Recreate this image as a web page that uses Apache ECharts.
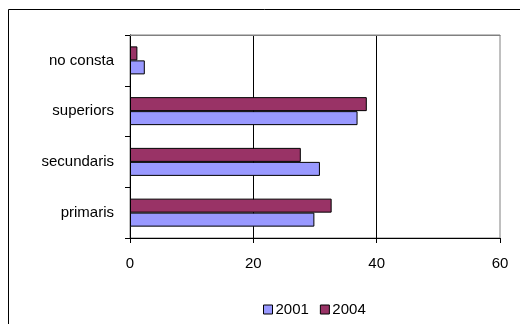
<!DOCTYPE html>
<html>
<head>
<meta charset="utf-8">
<script src="https://cdn.jsdelivr.net/npm/echarts@6/dist/echarts.min.js"></script>
<style>
  html, body { margin: 0; padding: 0; background: #fff; }
  #chart { width: 520px; height: 324px; }
</style>
</head>
<body>
<div id="chart"></div>
<script>
// Study levels, listed bottom to top
const categories = ['primaris', 'secundaris', 'superiors', 'no consta'];
const values2001 = [29.9, 30.8, 36.9, 2.4];
const values2004 = [32.7, 27.7, 38.4, 1.2];
const xTicks = [0, 20, 40, 60];

const FONT = '"Liberation Sans", Arial, sans-serif';

const chart = echarts.init(document.getElementById('chart'), null, { renderer: 'canvas' });

chart.setOption({
  animation: false,
  backgroundColor: '#fff',
  textStyle: { fontFamily: FONT },
  graphic: [{
    type: 'rect',
    shape: { x: 8.5, y: 9.5, width: 560, height: 360 },
    style: { fill: null, stroke: '#000', lineWidth: 1 },
    z: -1
  }],
  grid: {
    left: 130, right: 20, top: 35, bottom: 86,
    show: true, borderColor: '#808080', borderWidth: 1, backgroundColor: '#fff'
  },
  legend: {
    top: 297, left: 258,
    itemWidth: 9, itemHeight: 9, itemGap: 11,
    icon: 'rect',
    itemStyle: { borderColor: '#000', borderWidth: 1 },
    textStyle: { fontFamily: FONT, fontSize: 15, color: '#000', padding: [0, 0, 0, -2] },
    data: ['2001', '2004']
  },
  xAxis: [{
    type: 'value',
    min: xTicks[0], max: xTicks[xTicks.length - 1], interval: 20,
    axisLine: { show: true, lineStyle: { color: '#000', width: 1 } },
    axisTick: { show: true, length: 5, lineStyle: { color: '#000' } },
    axisLabel: { margin: 18, color: '#000', fontSize: 15, fontFamily: FONT },
    splitLine: { show: true, showMinLine: false, showMaxLine: false, lineStyle: { color: '#000', width: 1 } }
  }, {
    // plot-area frame along the top edge
    type: 'value', position: 'top',
    min: xTicks[0], max: xTicks[xTicks.length - 1], interval: 20,
    axisLine: { show: true, onZero: false, lineStyle: { color: '#808080', width: 1 } },
    axisTick: { show: false }, axisLabel: { show: false }, splitLine: { show: false }
  }],
  yAxis: {
    type: 'category',
    data: categories,
    axisLine: { show: true, lineStyle: { color: '#000', width: 1 } },
    axisTick: { show: true, length: 5, lineStyle: { color: '#000' } },
    axisLabel: { margin: 16, color: '#000', fontSize: 15, fontFamily: FONT }
  },
  series: [
    {
      name: '2004', type: 'bar', data: values2004,
      barWidth: 14, barGap: '0%',
      itemStyle: { color: '#993366', borderColor: '#000', borderWidth: 1 }
    },
    {
      name: '2001', type: 'bar', data: values2001,
      barWidth: 14, barGap: '0%',
      itemStyle: { color: '#9999FF', borderColor: '#000', borderWidth: 1 }
    }
  ]
});
</script>
</body>
</html>
